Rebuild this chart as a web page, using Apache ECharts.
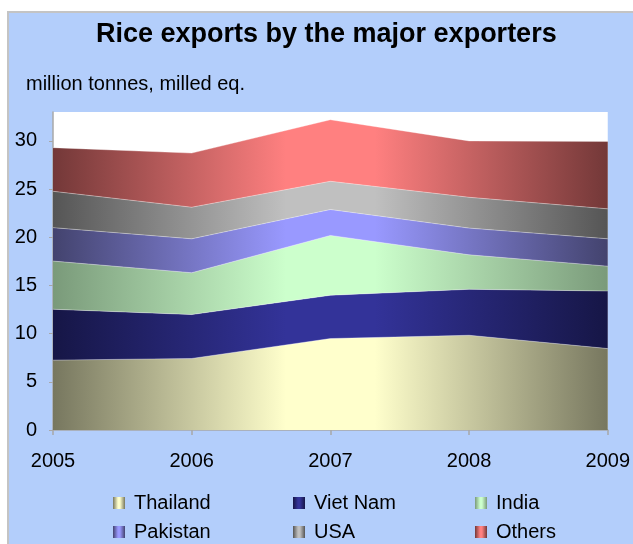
<!DOCTYPE html>
<html>
<head>
<meta charset="utf-8">
<script src="https://cdn.jsdelivr.net/npm/echarts@6/dist/echarts.min.js"></script>
<style>html,body{margin:0;padding:0;background:#fff;}#c{width:633px;height:544px;}</style>
</head>
<body>
<div id="c"></div>
<script>
var years = ['2005', '2006', '2007', '2008', '2009'];
var thailand = [7.25, 7.42, 9.49, 9.83, 8.45];
var vietNam = [5.28, 4.56, 4.49, 4.77, 5.97];
var india = [5.0, 4.34, 6.21, 3.58, 2.58];
var pakistan = [3.47, 3.52, 2.69, 2.77, 2.84];
var usa = [3.77, 3.28, 2.93, 3.2, 3.11];
var others = [4.53, 5.62, 6.39, 5.85, 7.0];
var seriesNames = ['Thailand', 'Viet Nam', 'India', 'Pakistan', 'USA', 'Others'];
var seriesData = [thailand, vietNam, india, pakistan, usa, others];
var lightColors = ['#ffffcc', '#333399', '#ccffcc', '#9999ff', '#c0c0c0', '#ff8080'];
var darkColors = ['#77775f', '#161646', '#7a9a7a', '#43436e', '#555555', '#733838'];

function grad(i) {
  return new echarts.graphic.LinearGradient(0, 0, 1, 0, [
    {offset: 0, color: darkColors[i]},
    {offset: 0.42, color: lightColors[i]},
    {offset: 0.58, color: lightColors[i]},
    {offset: 1, color: darkColors[i]}
  ]);
}

var chart = echarts.init(document.getElementById('c'));
var FONT = '"Liberation Sans", Arial, sans-serif';

var series = seriesNames.map(function (n, i) {
  return {
    name: n,
    type: 'line',
    stack: 'total',
    data: seriesData[i],
    symbol: 'none',
    smooth: false,
    lineStyle: {width: 1, color: 'rgba(255,255,255,0.35)'},
    itemStyle: {color: grad(i)},
    areaStyle: {color: grad(i), opacity: 1},
    emphasis: {disabled: true}
  };
});

var legPos = [[113, 503], [293, 503], [475, 503], [113, 532], [293, 532], [475, 532]];
var legends = seriesNames.map(function (n, i) {
  return {
    data: [{name: n, icon: 'rect', itemStyle: {color: grad(i)}}],
    left: legPos[i][0],
    top: legPos[i][1] - 10,
    padding: 0,
    itemWidth: 12,
    itemHeight: 12,
    selectedMode: false,
    textStyle: {fontFamily: FONT, fontSize: 20, color: '#000', padding: [0, 0, 0, 4]}
  };
});

chart.setOption({
  animation: false,
  backgroundColor: '#ffffff',
  graphic: {
    elements: [{
      type: 'rect', z: -100, silent: true,
      shape: {x: 8, y: 12, width: 630, height: 540},
      style: {fill: '#b3cefb', stroke: '#c4c4c4', lineWidth: 2}
    }]
  },
  title: [{
    text: 'Rice exports by the major exporters',
    left: 96, top: 21, padding: 0,
    textStyle: {fontFamily: FONT, fontSize: 27, fontWeight: 'bold', color: '#000'}
  }, {
    text: 'million tonnes, milled eq.',
    left: 21, top: 69,
    textStyle: {fontFamily: FONT, fontSize: 20, fontWeight: 'normal', color: '#000'}
  }],
  legend: legends,
  grid: {left: 53, right: 24, top: 112, bottom: 114, show: true, backgroundColor: '#ffffff', borderWidth: 0},
  xAxis: {
    type: 'category', data: years, boundaryGap: false,
    axisLine: {lineStyle: {color: '#a8a8a8', width: 1.5}},
    axisTick: {length: 5, lineStyle: {color: '#a8a8a8', width: 1.5}},
    axisLabel: {fontFamily: FONT, fontSize: 20, color: '#000', margin: 21},
    splitLine: {show: false}
  },
  yAxis: {
    type: 'value', min: 0, max: 33, interval: 5,
    axisLine: {show: true, lineStyle: {color: '#a8a8a8', width: 1.5}},
    axisTick: {show: true, length: 4, lineStyle: {color: '#a8a8a8', width: 1}},
    axisLabel: {fontFamily: FONT, fontSize: 20, color: '#000', margin: 16, showMaxLabel: false},
    splitLine: {show: false}
  },
  series: series
});
</script>
</body>
</html>
